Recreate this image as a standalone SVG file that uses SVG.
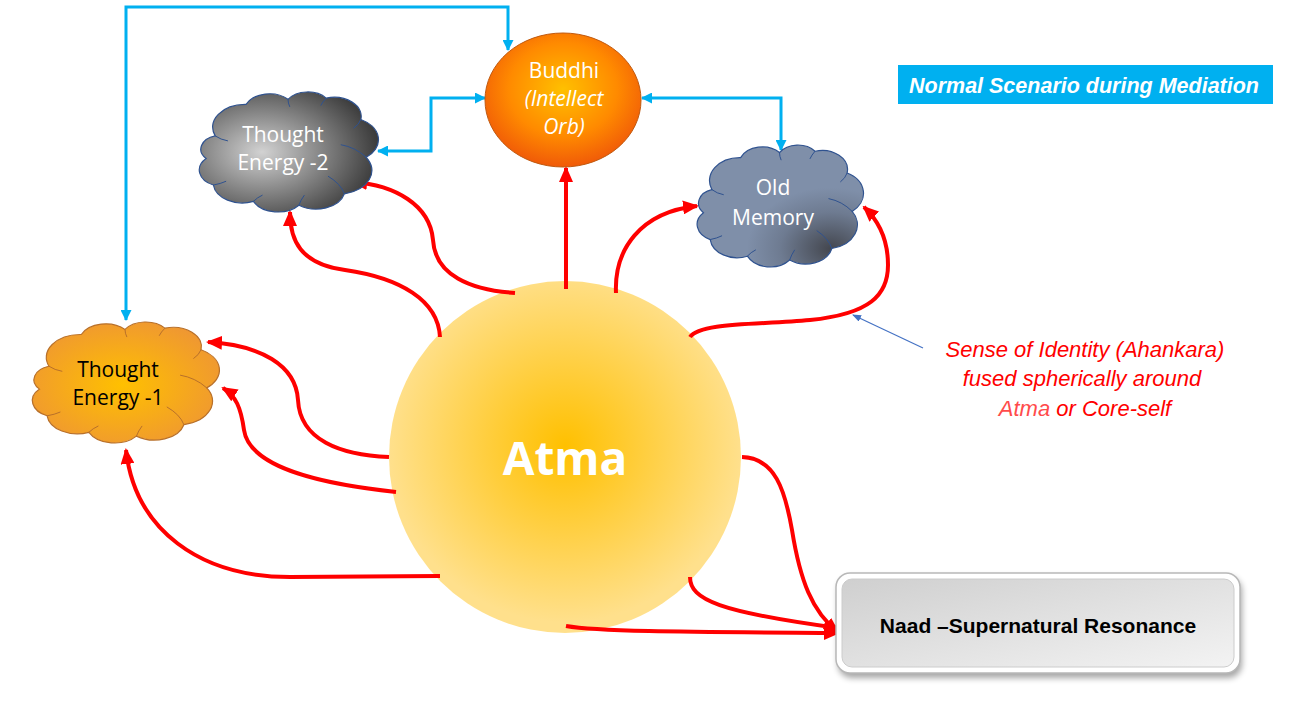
<svg xmlns="http://www.w3.org/2000/svg" xmlns:xlink="http://www.w3.org/1999/xlink" width="1303" height="728" viewBox="0 0 1303 728">
<style>
.red{fill:none;stroke:#ff0000;stroke-width:4;marker-end:url(#ar)}
.cy{fill:none;stroke:#00b0f0;stroke-width:3;marker-start:url(#ac);marker-end:url(#ac)}
.ct{font-family:"Open Sans","Liberation Sans",sans-serif;font-size:21px;text-anchor:middle}
.ann{font-family:"Liberation Sans",Arial,sans-serif;font-size:22px;font-style:italic;fill:#ff0000;text-anchor:middle}
</style>
<defs>
<marker id="ar" markerUnits="userSpaceOnUse" markerWidth="16" markerHeight="14" viewBox="0 0 16 14" refX="14" refY="7" orient="auto"><path d="M0,0 L16,7 L0,14 z" fill="#ff0000"/></marker>
<marker id="ac" markerUnits="userSpaceOnUse" markerWidth="11" markerHeight="11" viewBox="0 0 11 11" refX="10" refY="5.5" orient="auto-start-reverse"><path d="M0,0 L11,5.5 L0,11 z" fill="#00b0f0"/></marker>
<marker id="ab" markerUnits="userSpaceOnUse" markerWidth="9" markerHeight="7" viewBox="0 0 9 7" refX="8" refY="3.5" orient="auto"><path d="M0,0 L9,3.5 L0,7 z" fill="#4472c4"/></marker>
<path id="cloud" vector-effect="non-scaling-stroke" d="M10,38 A18,18 0 0 1 27,13 A14,14 0 0 1 50,9 A13,13 0 0 1 71,8 A15,15 0 0 1 90,25 A18,18 0 0 1 93,55 A19,19 0 0 1 81,84 A16,16 0 0 1 56,93 A15,15 0 0 1 31,90 A16,16 0 0 1 9,77 A13,13 0 0 1 5,56 A11,11 0 0 1 10,38 Z"/>
<path id="cloudIn" vector-effect="non-scaling-stroke" fill="none" d="M10,38 Q13,41 17,42 M50,9 Q50,12 51,15 M71,8 Q69,11 68,14 M90,25 Q89,29 86,32 M93,55 Q87,47 79,45 M81,84 Q79,76 72,70 M56,93 Q57,89 59,85 M31,90 Q33,87 36,85 M9,77 Q13,76 16,74"/>
<radialGradient id="gGray" cx="0.35" cy="0.5" r="0.65"><stop offset="0" stop-color="#d2d2d2"/><stop offset="1" stop-color="#3c3c3c"/></radialGradient>
<radialGradient id="gSlate" cx="0.8" cy="0.85" r="0.5"><stop offset="0" stop-color="#44474f"/><stop offset="0.6" stop-color="#6e7b91"/><stop offset="1" stop-color="#7f8fa9"/></radialGradient>
<radialGradient id="gOrange" cx="0.48" cy="0.52" r="0.6"><stop offset="0" stop-color="#ffc000"/><stop offset="1" stop-color="#ee9535"/></radialGradient>
<radialGradient id="gBuddhi" cx="0.5" cy="0.42" r="0.58"><stop offset="0" stop-color="#ffc000"/><stop offset="0.6" stop-color="#ff8a00"/><stop offset="1" stop-color="#f05a08"/></radialGradient>
<radialGradient id="gAtma" cx="0.5" cy="0.47" r="0.5"><stop offset="0" stop-color="#ffc000"/><stop offset="1" stop-color="#ffe08c"/></radialGradient>
<linearGradient id="gNaad" x1="0" y1="0" x2="1" y2="1"><stop offset="0" stop-color="#cfcfcf"/><stop offset="1" stop-color="#f3f3f3"/></linearGradient>
<filter id="sh" x="-10%" y="-20%" width="120%" height="150%"><feGaussianBlur stdDeviation="3"/></filter>
</defs>
<rect width="1303" height="728" fill="#ffffff"/>

<g id="atma">
<circle cx="565" cy="457" r="176" fill="url(#gAtma)"/>
<text x="565" y="475" font-family="'Open Sans','Liberation Sans',sans-serif" font-size="46" font-weight="bold" fill="#ffffff" text-anchor="middle">Atma</text>
</g>

<g id="connectors">
<path class="cy" d="M126,320 V7 H508 V50"/>
<path class="cy" d="M378,151 H431 V98 H485"/>
<path class="cy" d="M642,98 H781 V150"/>
<path class="red" d="M566,289 V168"/>
<path class="red" d="M515,293 C470,290 435,275 433,240 C430,205 395,185 353,182"/>
<path class="red" d="M440,337 C438,300 400,278 345,270 C300,264 290,240 290,212"/>
<path class="red" d="M616,293 C614,250 640,212 697,206"/>
<path class="red" d="M690,337 C700,322 760,325 810,320 C870,314 888,295 888,265 C888,240 880,222 864,207"/>
<path class="red" d="M389,457 C340,455 300,440 298,400 C296,365 260,345 208,342"/>
<path class="red" d="M396,492 C330,485 250,470 244,430 C241,408 236,396 223,388"/>
<path class="red" d="M440,576 L290,577 C200,577 135,530 126,450"/>
<path class="red" d="M742,457 C775,458 785,490 792,530 C800,580 812,612 838,632"/>
<path class="red" d="M690,577 C690,600 720,612 838,628"/>
<path class="red" d="M566,626 C600,632 700,632 838,633"/>
<path d="M923,348 L853,315" fill="none" stroke="#4472c4" stroke-width="1.2" marker-end="url(#ab)"/>
</g>

<g id="buddhi">
<ellipse cx="563" cy="100" rx="78" ry="67" fill="url(#gBuddhi)" stroke="#c05a10" stroke-width="1"/>
<text class="ct" x="564" y="78" fill="#ffffff">Buddhi</text>
<text class="ct" x="564" y="106" fill="#ffffff" font-style="italic">(Intellect</text>
<text class="ct" x="564" y="134" fill="#ffffff" font-style="italic">Orb)</text>
</g>

<g id="thought2">
<use xlink:href="#cloud" transform="translate(197,88) scale(1.82,1.26)" fill="url(#gGray)" stroke="#2f528f" stroke-width="1.2"/>
<use xlink:href="#cloudIn" transform="translate(197,88) scale(1.82,1.26)" stroke="#2f528f" stroke-width="1"/>
<text class="ct" x="283" y="142" fill="#ffffff">Thought</text>
<text class="ct" x="283" y="170" fill="#ffffff">Energy -2</text>
</g>

<g id="oldmemory">
<use xlink:href="#cloud" transform="translate(695,141) scale(1.69,1.28)" fill="url(#gSlate)" stroke="#2f528f" stroke-width="1.2"/>
<use xlink:href="#cloudIn" transform="translate(695,141) scale(1.69,1.28)" stroke="#2f528f" stroke-width="1"/>
<text class="ct" x="773" y="195" fill="#ffffff">Old</text>
<text class="ct" x="773" y="225" fill="#ffffff">Memory</text>
</g>

<g id="thought1">
<use xlink:href="#cloud" transform="translate(30,318) scale(1.9,1.27)" fill="url(#gOrange)" stroke="#b8702a" stroke-width="1.2"/>
<use xlink:href="#cloudIn" transform="translate(30,318) scale(1.9,1.27)" stroke="#b8702a" stroke-width="1"/>
<text class="ct" x="118" y="377" fill="#000000">Thought</text>
<text class="ct" x="118" y="405" fill="#000000">Energy -1</text>
</g>

<g id="naad">
<rect x="838" y="577" width="404" height="101" rx="14" fill="#000000" opacity="0.35" filter="url(#sh)"/>
<rect x="836" y="573" width="404" height="100" rx="14" fill="#ffffff" stroke="#b8b8b8" stroke-width="1.5"/>
<rect x="842" y="579" width="392" height="88" rx="10" fill="url(#gNaad)" stroke="#cccccc" stroke-width="1"/>
<text x="1038" y="633" font-family="'Liberation Sans',Arial,sans-serif" font-size="21" font-weight="bold" fill="#000000" text-anchor="middle">Naad –Supernatural Resonance</text>
</g>

<g id="title">
<rect x="898" y="65" width="375" height="39" fill="#00b0f0"/>
<text x="1084" y="93" font-family="'Liberation Sans',Arial,sans-serif" font-size="21.5" font-weight="bold" font-style="italic" fill="#ffffff" text-anchor="middle">Normal Scenario during Mediation</text>
</g>

<g id="annotation">
<text class="ann" x="1085" y="357">Sense of Identity (Ahankara)</text>
<text class="ann" x="1082" y="386">fused spherically around</text>
<text class="ann" x="1085" y="416"><tspan fill="#ff4b4b">Atma</tspan> or Core-self</text>
</g>
</svg>
